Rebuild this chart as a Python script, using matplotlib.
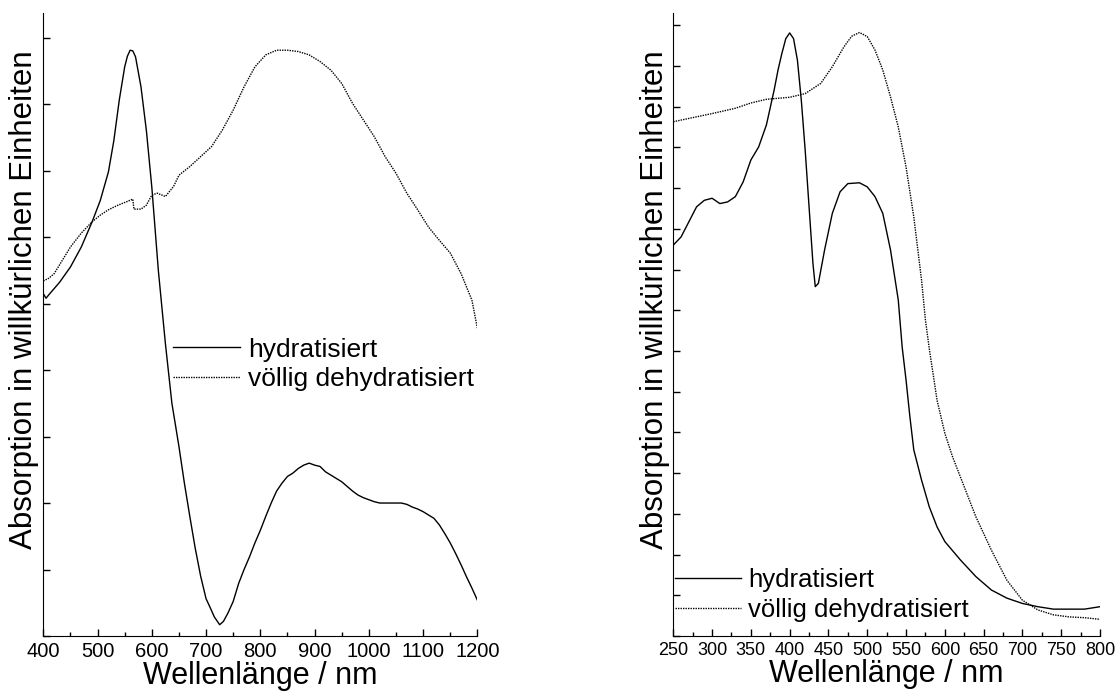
# Absorptionsspektren hydratisiert / völlig dehydratisiert, zwei Panels

import numpy as np
import matplotlib
matplotlib.use("Agg")
import matplotlib.pyplot as plt
from matplotlib.ticker import MultipleLocator

plt.rcParams['font.family'] = ['Liberation Sans', 'DejaVu Sans']

# linkes Panel (400-1200 nm), y in willkürlichen Einheiten (Tickabstand = 1)
wl_links_hyd = [400, 405, 410, 430, 450, 470, 490, 505, 520, 530, 540, 550, 555, 560, 565,
                570, 580, 590, 600, 612, 625, 637, 650, 660, 670, 680, 690, 700, 708, 715,
                725, 732, 740, 750, 760, 770, 780, 790, 800, 810, 820, 830, 840, 850, 860,
                870, 880, 890, 900, 910, 920, 930, 940, 950, 960, 970, 980, 990, 1000, 1010,
                1020, 1030, 1040, 1050, 1060, 1070, 1080, 1090, 1100, 1110, 1120, 1130, 1140,
                1150, 1160, 1170, 1180, 1190, 1200]
abs_links_hyd = [5.15, 5.08, 5.13, 5.32, 5.55, 5.85, 6.23, 6.55, 6.98, 7.45, 8.06, 8.56, 8.72,
                 8.81, 8.80, 8.71, 8.26, 7.60, 6.75, 5.50, 4.40, 3.50, 2.85, 2.30, 1.80, 1.32,
                 0.90, 0.56, 0.42, 0.29, 0.17, 0.22, 0.34, 0.52, 0.79, 1.00, 1.19, 1.40, 1.59,
                 1.80, 2.00, 2.18, 2.30, 2.40, 2.45, 2.52, 2.57, 2.60, 2.57, 2.55, 2.47, 2.42,
                 2.37, 2.32, 2.25, 2.18, 2.12, 2.08, 2.05, 2.02, 2.00, 2.00, 2.00, 2.00, 2.00,
                 1.98, 1.94, 1.91, 1.87, 1.82, 1.77, 1.67, 1.54, 1.40, 1.24, 1.07, 0.89,
                 0.72, 0.54]

wl_links_dehyd = [400, 410, 420, 435, 450, 470, 490, 505, 520, 535, 550, 565, 567, 580, 590,
                  600, 610, 625, 640, 650, 670, 690, 710, 730, 750, 770, 790, 810, 830, 850,
                  870, 890, 910, 930, 950, 970, 990, 1010, 1030, 1050, 1070, 1090, 1110, 1130,
                  1150, 1170, 1190, 1200]
abs_links_dehyd = [5.34, 5.38, 5.45, 5.65, 5.85, 6.06, 6.23, 6.33, 6.41, 6.47, 6.52, 6.57,
                   6.42, 6.42, 6.48, 6.63, 6.66, 6.61, 6.76, 6.93, 7.06, 7.21, 7.36, 7.61,
                   7.91, 8.26, 8.56, 8.74, 8.81, 8.81, 8.79, 8.74, 8.64, 8.51, 8.31, 8.01,
                   7.76, 7.51, 7.21, 6.96, 6.66, 6.41, 6.15, 5.95, 5.76, 5.45, 5.05, 4.63]

# rechtes Panel (250-800 nm)
wl_rechts_hyd = [250, 260, 270, 280, 290, 300, 310, 320, 330, 340, 350, 360, 370, 380, 385,
                 390, 395, 400, 405, 410, 415, 420, 425, 430, 433, 437, 445, 455, 465, 475,
                 490, 500, 510, 520, 530, 540, 545, 550, 555, 560, 570, 580, 590, 600, 620,
                 640, 660, 680, 700, 720, 740, 760, 780, 800]
abs_rechts_hyd = [9.60, 9.80, 10.17, 10.54, 10.70, 10.75, 10.62, 10.66, 10.79, 11.15, 11.69,
                  12.01, 12.55, 13.41, 13.90, 14.31, 14.67, 14.81, 14.67, 14.14, 13.16, 11.93,
                  10.54, 9.15, 8.58, 8.66, 9.48, 10.38, 10.91, 11.11, 11.13, 11.03, 10.79,
                  10.38, 9.48, 8.25, 7.10, 6.29, 5.38, 4.57, 3.83, 3.17, 2.68, 2.32, 1.87,
                  1.46, 1.13, 0.93, 0.80, 0.72, 0.66, 0.66, 0.66, 0.72]

wl_rechts_dehyd = [250, 270, 300, 330, 350, 370, 400, 420, 440, 455, 470, 480, 490, 500, 510,
                   520, 530, 540, 550, 560, 570, 575, 580, 590, 600, 610, 620, 640, 660, 680,
                   700, 720, 740, 760, 780, 800]
abs_rechts_dehyd = [12.63, 12.71, 12.83, 12.96, 13.09, 13.18, 13.23, 13.32, 13.57, 13.98,
                    14.47, 14.73, 14.82, 14.72, 14.39, 13.90, 13.24, 12.50, 11.52, 10.29,
                    8.74, 7.76, 7.05, 5.79, 4.98, 4.40, 3.91, 2.93, 2.11, 1.37, 0.88, 0.64,
                    0.52, 0.47, 0.45, 0.41]

labels = ["hydratisiert", "völlig dehydratisiert"]
dotted = (0, (1, 0.8))

fig = plt.figure(figsize=(11.19, 6.98), dpi=100)
ax1 = fig.add_axes([0.0387, 0.0888, 0.3879, 0.8926])
ax2 = fig.add_axes([0.6017, 0.0888, 0.3813, 0.8926])

ax1.plot(wl_links_hyd, abs_links_hyd, color="black", lw=1.0, label=labels[0])
ax1.plot(wl_links_dehyd, abs_links_dehyd, color="black", lw=1.0, ls=dotted, label=labels[1])
ax2.plot(wl_rechts_hyd, abs_rechts_hyd, color="black", lw=1.0, label=labels[0])
ax2.plot(wl_rechts_dehyd, abs_rechts_dehyd, color="black", lw=1.0, ls=dotted, label=labels[1])

ax1.set_xlim(400, 1200)
ax1.set_ylim(0, 9.37)
ax1.xaxis.set_major_locator(MultipleLocator(100))
ax1.xaxis.set_minor_locator(MultipleLocator(50))
ax1.yaxis.set_major_locator(MultipleLocator(1))

ax2.set_xlim(250, 800)
ax2.set_ylim(0, 15.3)
ax2.xaxis.set_major_locator(MultipleLocator(50))
ax2.xaxis.set_minor_locator(MultipleLocator(25))
ax2.yaxis.set_major_locator(MultipleLocator(1))

for ax, fs in ((ax1, 14.5), (ax2, 13)):
    ax.spines['top'].set_visible(False)
    ax.spines['right'].set_visible(False)
    ax.tick_params(axis='both', which='major', direction='in', length=5, width=1)
    ax.tick_params(axis='both', which='minor', direction='in', length=3, width=1)
    ax.tick_params(axis='x', labelsize=fs, pad=4)
    ax.tick_params(axis='y', labelleft=False)
    ax.set_xlabel("Wellenlänge / nm", fontsize=22, labelpad=0)

fig.text(24/1119, 1-300/698, "Absorption in willkürlichen Einheiten", rotation=90,
         fontsize=22.5, ha='center', va='center')
fig.text(655/1119, 1-300/698, "Absorption in willkürlichen Einheiten", rotation=90,
         fontsize=22.5, ha='center', va='center')

ax1.legend(loc='center left', bbox_to_anchor=(173/1119, 1-364.3/698),
           bbox_transform=fig.transFigure, frameon=False, fontsize=19,
           handlelength=2.55, handletextpad=0.3, labelspacing=0.2,
           borderpad=0, borderaxespad=0)
ax2.legend(loc='center left', bbox_to_anchor=(675/1119, 1-595/698),
           bbox_transform=fig.transFigure, frameon=False, fontsize=18.5,
           handlelength=2.55, handletextpad=0.3, labelspacing=0.25,
           borderpad=0, borderaxespad=0)

plt.savefig("out.png", dpi=100)
